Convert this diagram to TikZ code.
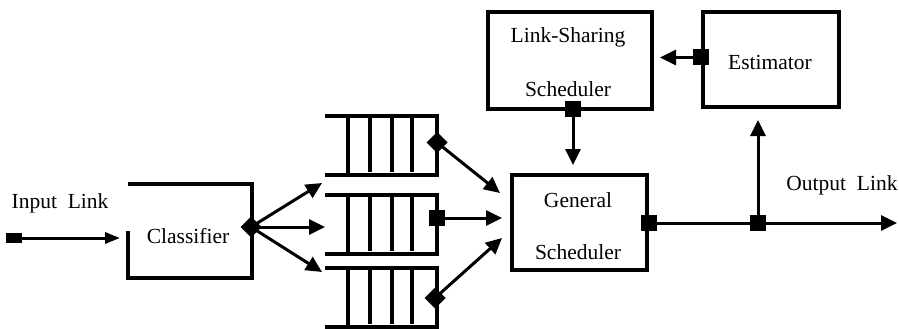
\documentclass[tikz,border=0pt]{standalone}
\usepackage{fontspec}
\setmainfont{Liberation Serif}
\usetikzlibrary{arrows.meta,shapes.geometric,calc}

\begin{document}
\begin{tikzpicture}[x=1pt,y=-1pt,
  every node/.style={inner sep=0pt,outer sep=0pt},
  lbl/.style={font=\fontsize{21.5}{24}\selectfont},
  block/.style={draw,line width=4pt,rectangle},
  frame/.style={rectangle},
  queuebox/.style={draw,line width=4pt,rectangle,minimum width=89pt,minimum height=59pt},
  conn/.style={line width=3pt,-{Triangle[length=16pt,width=15pt]}},
  sqmark/.style={fill,rectangle,minimum width=16pt,minimum height=16pt},
  dmark/.style={fill,diamond,minimum width=21pt,minimum height=21pt}
]
\useasboundingbox (0,0) rectangle (899,329);

% ---- classifier: box open at its upper left side ----
\node[frame,minimum width=124pt,minimum height=94pt] (cls) at (190,231) {};
\node[lbl] (clstext) at (188,236) {Classifier};
\draw[line width=4pt] (cls.west) -- (cls.south west) -- (cls.south east)
  -- (cls.north east) -- (cls.north west);
\node[dmark] (clsout) at ($(cls.east)+(-1,-4)$) {};

% ---- input link ----
\node[fill,rectangle,minimum width=16pt,minimum height=10pt] (inmark) at (14,238) {};
\node[lbl] (intext) at (60,203) {Input\ \ Link};
\draw[line width=3pt,-{Triangle[length=15pt,width=11pt]},shorten >=8pt]
  (inmark.east) -- (cls.west |- inmark.east);

% ---- three class queues ----
\foreach \n/\y in {1/145.5,2/224,3/297}{
  \node[queuebox] (q\n) at (392.5,\y) {};
  \draw[line width=4pt] ($(q\n.north west)+(-23,0)$) -- (q\n.north west);
  \draw[line width=4pt] ($(q\n.south west)+(-23,0)$) -- (q\n.south west);
  \foreach \dx in {22,44,64}
    \draw[line width=3.5pt] ($(q\n.north west)+(\dx,0)$) -- ($(q\n.south west)+(\dx,-3)$);
}
\node[dmark] (q1out) at ($(q1.east)+(0,-3)$) {};
\node[sqmark] (q2out) at ($(q2.east)+(0,-6)$) {};
\node[dmark] (q3out) at ($(q3.east)+(-2,1)$) {};

% classifier fan-out
\coordinate (q1in) at (322,183);
\coordinate (q2in) at (325,227);
\coordinate (q3in) at (322,272);
\draw[conn] (clsout.center) -- (q1in);
\draw[conn] (clsout.center) -- (q2in);
\draw[conn] (clsout.center) -- (q3in);

% ---- general scheduler ----
\node[block,minimum width=135pt,minimum height=95pt] (gen) at (579.5,222.5) {};
\node[lbl] (gent1) at (578,200) {General};
\node[lbl] (gent2) at (578,252) {Scheduler};

\coordinate (g1in) at (500,193);
\coordinate (g2in) at (502,218);
\coordinate (g3in) at (502,238);
\draw[conn] (q1out.center) -- (g1in);
\draw[conn] (q2out.center) -- (g2in);
\draw[conn] (q3out.center) -- (g3in);

% ---- link-sharing scheduler ----
\node[block,minimum width=164pt,minimum height=97pt] (ls) at (570,60.5) {};
\node[lbl] (lst1) at (568,37) {Link-Sharing};
\node[lbl] (lst2) at (568,89) {Scheduler};
\node[sqmark] (lsout) at ($(ls.south)+(3,0)$) {};
\draw[conn,shorten >=10pt] (lsout.center) -- (lsout.center |- gen.north);

% ---- estimator ----
\node[block,minimum width=136pt,minimum height=95pt] (est) at (771,59.5) {};
\node[lbl] (estt) at (770,62) {Estimator};
\node[sqmark] (estout) at ($(est.west)+(-2,-2)$) {};
\draw[conn,shorten >=8pt] (estout.center) -- (ls.east |- estout.center);

% ---- output link ----
\node[sqmark] (genout) at ($(gen.east)+(2,0.5)$) {};
\node[sqmark] (tap) at (758,223) {};
\coordinate (outend) at (897,223);
\node[lbl] (outtext) at (842,185) {Output\ \ Link};
\draw[line width=3pt] (genout.center) -- (tap.center);
\draw[conn] (tap.center) -- (outend);
\draw[conn,shorten >=13pt] (tap.center) -- (tap.center |- est.south);
\end{tikzpicture}
\end{document}
